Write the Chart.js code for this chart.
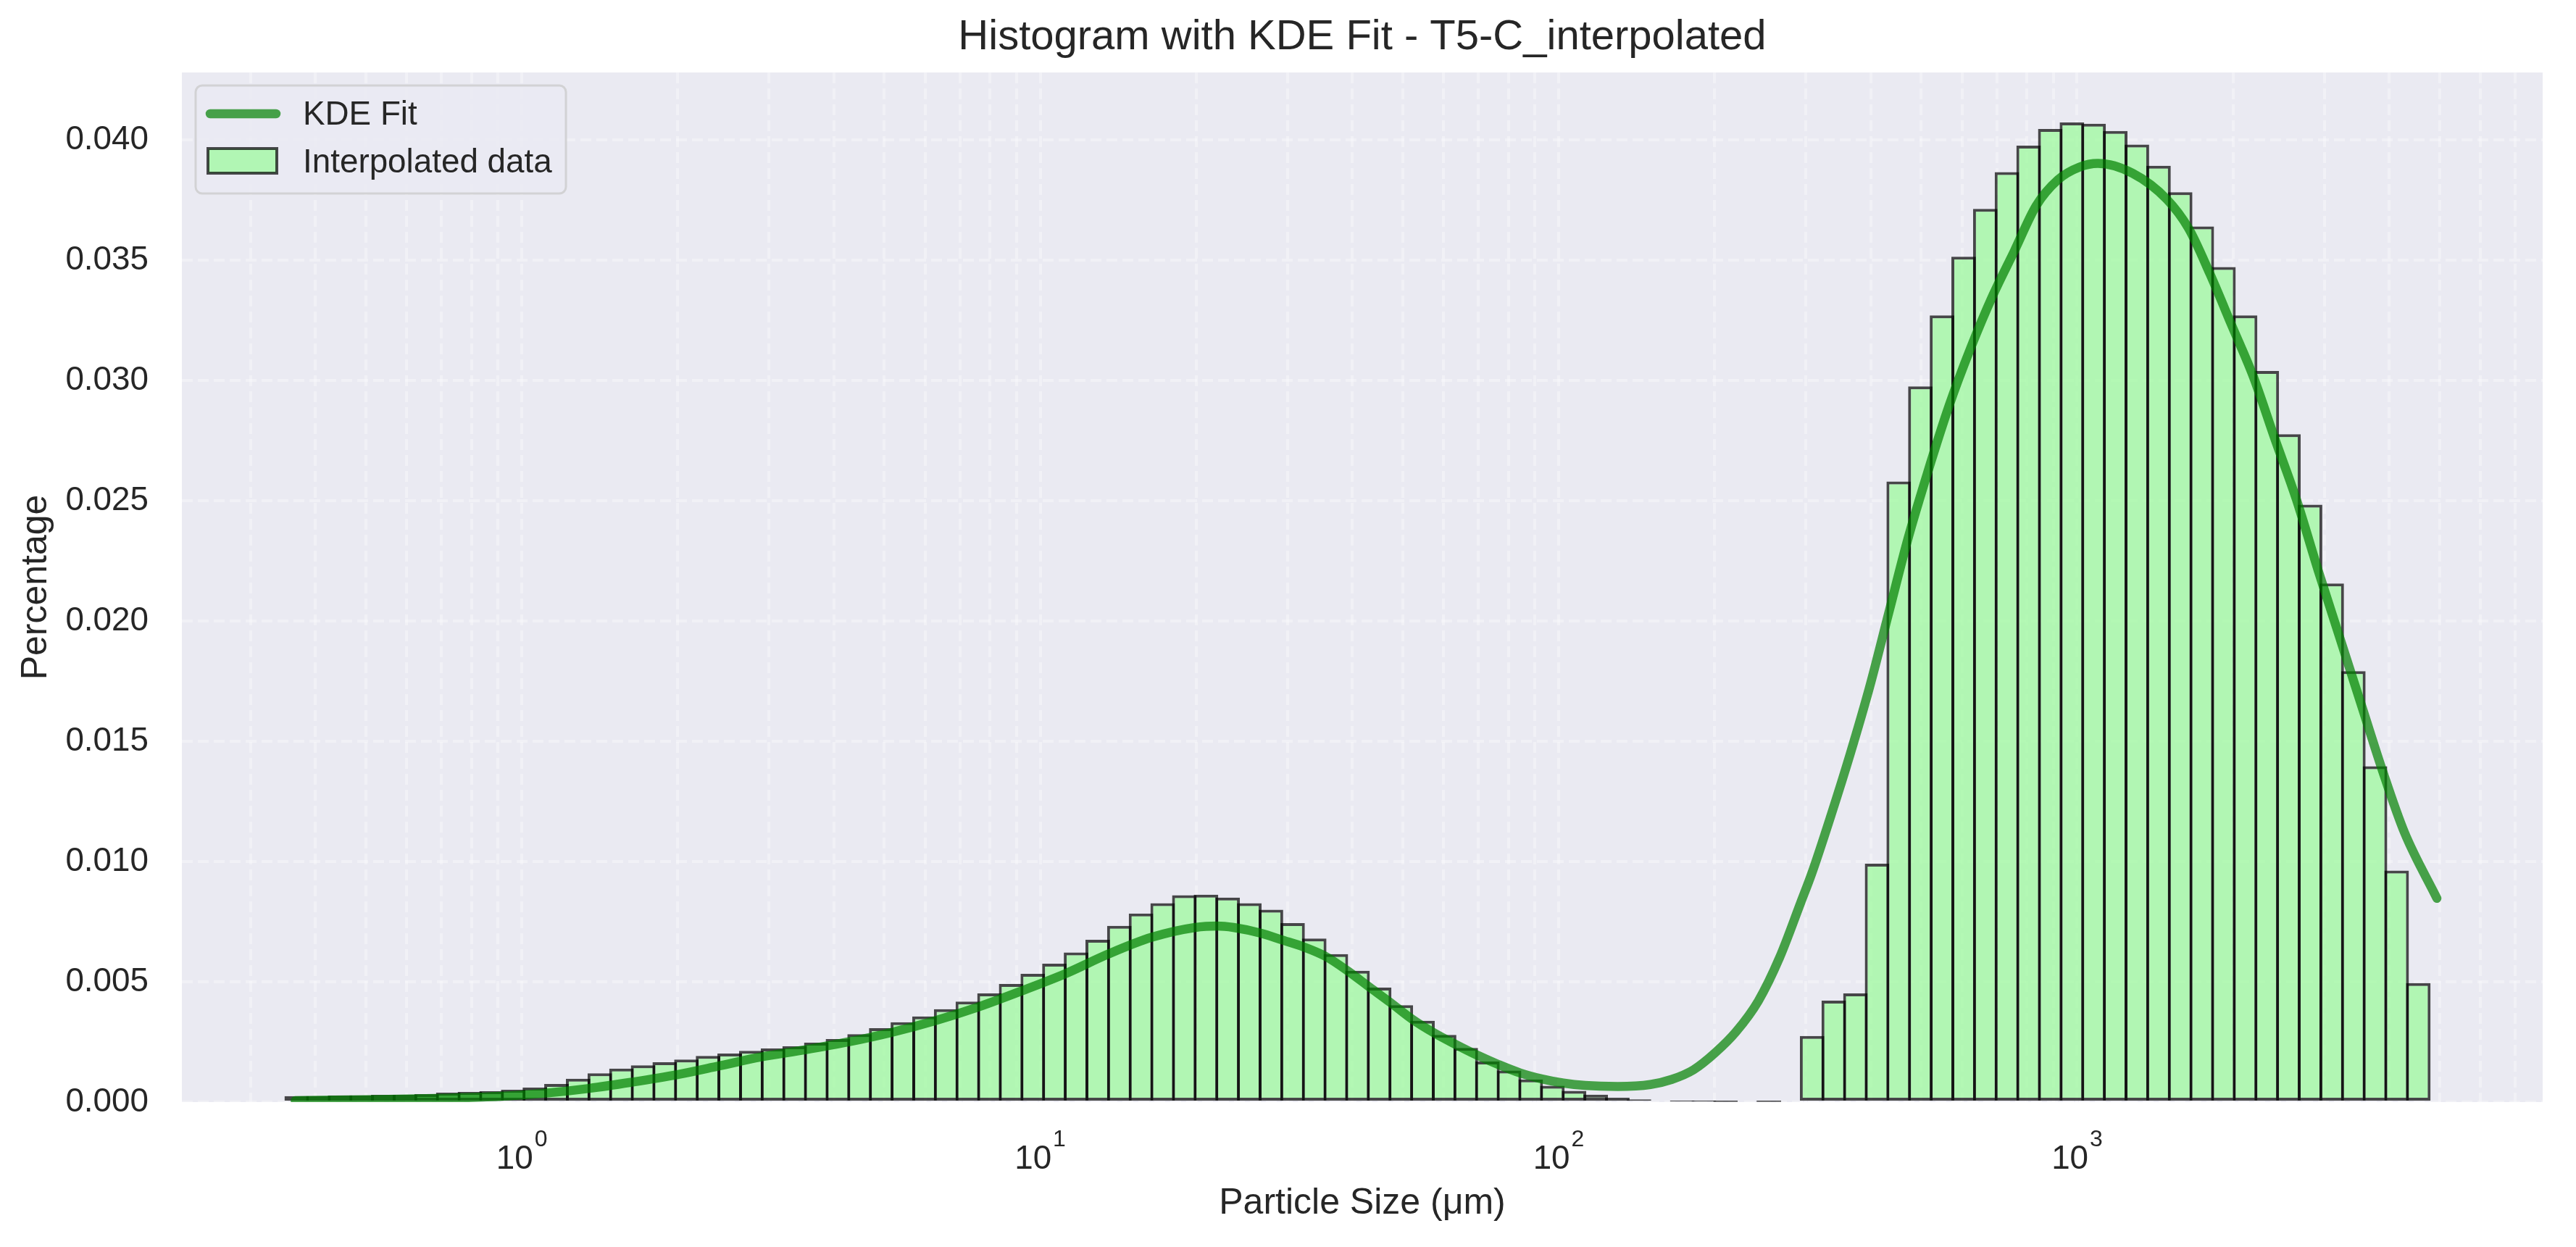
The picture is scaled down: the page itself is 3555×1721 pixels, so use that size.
<!DOCTYPE html>
<html>
<head>
<meta charset="utf-8">
<title>Histogram with KDE Fit - T5-C_interpolated</title>
<script src="https://cdn.jsdelivr.net/npm/chart.js@4.4.1/dist/chart.umd.min.js"></script>
<style>
  html, body { margin: 0; padding: 0; background: #ffffff; }
  #wrap { width: 3555px; height: 1721px; }
  #histChart { width: 3555px; height: 1721px; display: block; }
</style>
</head>
<body>
<div id="wrap"><canvas id="histChart" width="3555" height="1721"></canvas></div>
<script>
// Histogram bins (log-spaced, particle size in um)
const binEdgeMin = 0.3508;
const binEdgeMax = 4775;
const binPercent = [
  0.00025, 0.00025, 0.00028, 0.00028, 0.00030, 0.00030, 0.00033, 0.00039, 0.00042, 0.00045,
  0.00051, 0.00060, 0.00075, 0.00097, 0.00120, 0.00139, 0.00153, 0.00166, 0.00177, 0.00192,
  0.00202, 0.00213, 0.00223, 0.00232, 0.00247, 0.00262, 0.00282, 0.00307, 0.00332, 0.00356,
  0.00386, 0.00418, 0.00452, 0.00491, 0.00533, 0.00575, 0.00622, 0.00675, 0.00733, 0.00784,
  0.00827, 0.00860, 0.00862, 0.00850, 0.00827, 0.00800, 0.00744, 0.00680, 0.00615, 0.00546,
  0.00476, 0.00403, 0.00338, 0.00279, 0.00225, 0.00169, 0.00131, 0.00094, 0.00068, 0.00047,
  0.00031, 0.00018, 0.00011, 0.00006, 0.00003, 0.00002, 0.00001, 0, 0.00001, 0,
  0.00275, 0.00422, 0.00452, 0.00991, 0.02580, 0.02975, 0.03270, 0.03514, 0.03713, 0.03866,
  0.03976, 0.04045, 0.04072, 0.04067, 0.04037, 0.03980, 0.03892, 0.03782, 0.03640, 0.03471,
  0.03270, 0.03039, 0.02776, 0.02483, 0.02156, 0.01791, 0.01396, 0.00962, 0.00495
];

// KDE curve
const kdeSize = [
  0.3656, 0.5012, 0.7079, 0.912, 1.122, 1.349, 1.622, 1.995, 2.399, 2.884,
  3.516, 4.266, 5.176, 6.266, 7.586, 9.204, 11.19, 13.52, 16.41, 19.91,
  21.93, 23.6, 26.67, 29.17, 32.21, 35.56, 39.26, 43.15, 47.42, 52.12,
  57.54, 63.24, 69.66, 76.56, 84.33, 92.9, 102.1, 112.5, 130.0, 150.3,
  165.2, 182.0, 200.4, 219.8, 242.7, 266.7, 293.1, 307.6, 335.0, 364.8,
  398.1, 433.5, 472.1, 514.0, 566.2, 623.7, 687.1, 756.8, 833.7, 918.3,
  1011.6, 1096.5, 1279.4, 1489.4, 1640.6, 1803.0, 1986.0, 2187.8, 2404.3, 2648.5,
  2917.4, 3213.8, 3540.1, 3881.5, 4275.6, 4943.1
];
const kdeDensity = [
  0.00006, 0.00010, 0.00016, 0.00024, 0.00038, 0.00057, 0.00082, 0.00114, 0.00150, 0.00187,
  0.00217, 0.00250, 0.00290, 0.00338, 0.00395, 0.00462, 0.00534, 0.00615, 0.00685, 0.00726,
  0.00732, 0.00726, 0.00702, 0.00675, 0.00645, 0.00605, 0.00544, 0.00478, 0.00413, 0.00345,
  0.00287, 0.00240, 0.00195, 0.00156, 0.00121, 0.00096, 0.00079, 0.00069, 0.00065, 0.00073,
  0.00094, 0.00134, 0.00205, 0.00292, 0.00420, 0.00600, 0.00830, 0.00949, 0.01190, 0.01445,
  0.01727, 0.02036, 0.02344, 0.02612, 0.02894, 0.03136, 0.03351, 0.03538, 0.03726, 0.03834,
  0.03887, 0.03902, 0.03861, 0.03753, 0.03632, 0.03444, 0.03230, 0.03015, 0.02760, 0.02505,
  0.02210, 0.01928, 0.01646, 0.01378, 0.01123, 0.00847
];

// Axis ticks
const xMajorExponents = [0, 1, 2, 3];
const yTickStep = 0.005;

const FONT = "'Liberation Sans', Arial, sans-serif";
const TEXT = '#262626';
const TICK_SIZE = 45.8;

// geometric bin centres of the log-spaced histogram
const logLo = Math.log10(binEdgeMin);
const logStep = (Math.log10(binEdgeMax) - logLo) / binPercent.length;
const histPoints = binPercent.map((v, i) => ({ x: Math.pow(10, logLo + (i + 0.5) * logStep), y: v }));
const kdePoints = kdeSize.map((s, i) => ({ x: s, y: kdeDensity[i] }));

const gridStyle = { color: 'rgba(255, 255, 255, 0.33)', lineWidth: 4, drawTicks: false };

// plot face colour
const plotBackground = {
  id: 'plotBackground',
  beforeDraw(chart) {
    const { ctx, chartArea: a } = chart;
    ctx.save();
    ctx.fillStyle = '#ffffff';
    ctx.fillRect(0, 0, chart.width, chart.height);
    ctx.fillStyle = '#EAEAF2';
    ctx.fillRect(a.left, a.top, a.right - a.left, a.bottom - a.top);
    ctx.restore();
  }
};

// 10^n labels under the log axis
const powerLabels = {
  id: 'powerLabels',
  afterDraw(chart) {
    const { ctx } = chart;
    const x = chart.scales.x;
    const base = chart.chartArea.bottom;
    ctx.save();
    ctx.fillStyle = TEXT;
    ctx.textAlign = 'left';
    ctx.textBaseline = 'alphabetic';
    xMajorExponents.forEach(p => {
      const px = x.getPixelForValue(Math.pow(10, p));
      ctx.font = `${TICK_SIZE}px ${FONT}`;
      const wb = ctx.measureText('10').width;
      ctx.font = `32px ${FONT}`;
      const we = ctx.measureText(String(p)).width;
      const left = px - (wb + we + 2) / 2;
      ctx.font = `${TICK_SIZE}px ${FONT}`;
      ctx.fillText('10', left, base + 92);
      ctx.font = `32px ${FONT}`;
      ctx.fillText(String(p), left + wb + 2, base + 61);
    });
    ctx.restore();
  }
};

// legend box in the upper-left corner of the axes
const cornerLegend = {
  id: 'cornerLegend',
  afterDraw(chart) {
    const { ctx, chartArea: a } = chart;
    const [kde, hist] = chart.data.datasets;
    const L = a.left, T = a.top;
    ctx.save();
    ctx.beginPath();
    if (ctx.roundRect) ctx.roundRect(L + 19, T + 18, 511, 149, 9);
    else ctx.rect(L + 19, T + 18, 511, 149);
    ctx.fillStyle = 'rgba(234, 234, 242, 0.8)';
    ctx.fill();
    ctx.lineWidth = 3;
    ctx.strokeStyle = 'rgba(204, 204, 204, 0.8)';
    ctx.stroke();

    ctx.beginPath();
    ctx.moveTo(L + 39, T + 57);
    ctx.lineTo(L + 130, T + 57);
    ctx.lineWidth = kde.borderWidth;
    ctx.strokeStyle = kde.borderColor;
    ctx.lineCap = 'round';
    ctx.stroke();

    ctx.fillStyle = hist.backgroundColor;
    ctx.fillRect(L + 36, T + 105, 95, 34);
    ctx.lineWidth = 4;
    ctx.strokeStyle = hist.borderColor;
    ctx.strokeRect(L + 36, T + 105, 95, 34);

    ctx.fillStyle = TEXT;
    ctx.font = `${TICK_SIZE}px ${FONT}`;
    ctx.textAlign = 'left';
    ctx.textBaseline = 'alphabetic';
    ctx.fillText(kde.label, L + 167, T + 72);
    ctx.fillText(hist.label, L + 167, T + 138);
    ctx.restore();
  }
};

Chart.defaults.font.family = FONT;
Chart.defaults.color = TEXT;

new Chart(document.getElementById('histChart'), {
  type: 'bar',
  data: {
    datasets: [
      {
        type: 'line',
        label: 'KDE Fit',
        data: kdePoints,
        borderColor: 'rgba(0, 128, 0, 0.7)',
        borderWidth: 12.5,
        borderCapStyle: 'round',
        pointRadius: 0,
        tension: 0.4,
        cubicInterpolationMode: 'monotone',
        order: 0
      },
      {
        type: 'bar',
        label: 'Interpolated data',
        data: histPoints,
        backgroundColor: 'rgba(152, 251, 152, 0.7)',
        borderColor: 'rgba(0, 0, 0, 0.7)',
        borderWidth: 4,
        borderSkipped: false,
        barPercentage: 1,
        categoryPercentage: 1.134,
        grouped: false,
        order: 1
      }
    ]
  },
  options: {
    responsive: false,
    devicePixelRatio: 1,
    animation: false,
    events: [],
    layout: { padding: { left: 0, right: 46, top: 0, bottom: 0 } },
    plugins: {
      legend: { display: false },
      tooltip: { enabled: false },
      title: {
        display: true,
        fullSize: false,
        text: 'Histogram with KDE Fit - T5-C_interpolated',
        color: TEXT,
        font: { size: 58, weight: 'normal', lineHeight: 1.2 },
        padding: { top: 17, bottom: 13.4 }
      }
    },
    scales: {
      x: {
        type: 'logarithmic',
        min: 0.221,
        max: 7907,
        offset: false,
        grid: { ...gridStyle, offset: false },
        border: { display: false, dash: [15, 7] },
        ticks: { display: false },
        afterBuildTicks: scale => {
          const ticks = [];
          for (let e = -1; e <= 3; e++) {
            for (let m = 1; m <= 9; m++) {
              const v = m * Math.pow(10, e);
              if (v >= scale.min && v <= scale.max) ticks.push({ value: v, major: m === 1 });
            }
          }
          scale.ticks = ticks;
        },
        afterFit: scale => { scale.height = 200; },
        title: {
          display: true,
          text: 'Particle Size (μm)',
          color: TEXT,
          font: { size: 50, lineHeight: 1.2 },
          padding: { top: 0, bottom: 30 }
        }
      },
      y: {
        type: 'linear',
        min: 0,
        max: 0.0428,
        grid: gridStyle,
        border: { display: false, dash: [15, 7] },
        ticks: {
          stepSize: yTickStep,
          includeBounds: false,
          padding: 46,
          font: { size: TICK_SIZE },
          color: TEXT,
          callback: v => Number(v).toFixed(3)
        },
        afterFit: scale => { scale.width = 251; },
        title: {
          display: true,
          text: 'Percentage',
          color: TEXT,
          font: { size: 50, lineHeight: 1.2 },
          padding: { top: 20, bottom: 0 }
        }
      }
    }
  },
  plugins: [plotBackground, powerLabels, cornerLegend]
});
</script>
</body>
</html>
